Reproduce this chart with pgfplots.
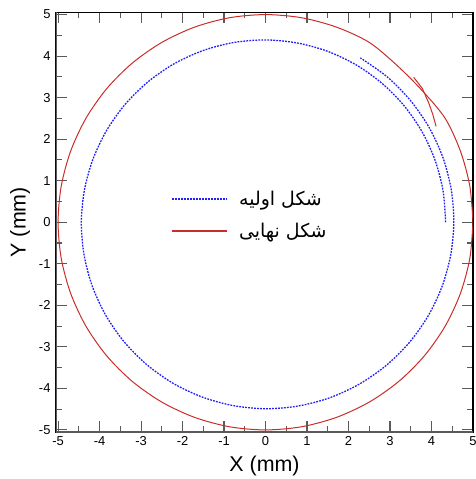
\documentclass[border=0pt]{standalone}
\usepackage{fontspec}
\setmainfont{Liberation Sans}
\newfontfamily\arabicfont[Script=Arabic]{DejaVu Sans}
\TeXXeTstate=1
\usepackage{pgfplots}
\pgfplotsset{compat=1.18}
\definecolor{myred}{RGB}{200,45,40}
\definecolor{myblue}{RGB}{30,30,255}
\definecolor{axgray}{RGB}{90,90,90}
\begin{document}
\begin{tikzpicture}
\begin{axis}[
  at={(0bp,0bp)}, anchor=south west,
  scale only axis,
  width=417bp, height=419.5bp,
  xmin=-5.05, xmax=5.0, ymin=-5.05, ymax=5.05,
  xtick={-5,...,5}, ytick={-5,...,5},
  minor xtick={-4.5,-3.5,...,4.5}, minor ytick={-4.5,-3.5,...,4.5},
  tick align=inside,
  major tick length=11bp, minor tick length=6bp,
  every tick/.style={axgray, line width=1.1pt},
  axis line style={black, line width=1.2pt},
  /pgf/number format/assume math mode=true,
  ticklabel style={font=\fontsize{13}{15}\selectfont},
  xticklabel style={yshift=-1bp},
  yticklabel style={xshift=-2bp},
  xlabel={X (mm)}, ylabel={Y (mm)},
  label style={font=\fontsize{21.5}{24}\selectfont},
  xlabel style={at={(axis description cs:0.5,0)}, anchor=center, yshift=-34bp},
  ylabel style={at={(axis description cs:0,0.5)}, anchor=center, yshift=36bp},
  legend style={at={(0.27,0.517)}, anchor=west, draw=none, fill=none,
    font=\fontsize{19}{22}\selectfont, row sep=12bp,
    /tikz/every odd column/.append style={column sep=9bp}},
  legend cell align=left,
]
\addplot[color=myblue, line width=1.3pt, dash pattern=on 1.8pt off 1.2pt, smooth,
  legend image code/.code={\draw[myblue, line width=1.4pt, dash pattern=on 1.8pt off 1.2pt] (0bp,0bp) -- (55bp,0bp);}] coordinates {
(4.34,0) (4.279,0.754) (4.088,1.488) (3.773,2.178) (3.341,2.804) (2.807,3.345)
(2.187,3.787) (1.498,4.115) (0.761,4.317) (0,4.39) (-0.763,4.328) (-1.505,4.135)
(-2.203,3.816) (-2.835,3.379) (-3.384,2.839) (-3.830,2.211) (-4.161,1.514) (-4.366,0.770)
(-4.44,0) (-4.376,-0.772) (-4.182,-1.522) (-3.858,-2.228) (-3.417,-2.868) (-2.871,-3.421)
(-2.236,-3.873) (-1.531,-4.207) (-0.778,-4.415) (0,-4.49) (0.780,-4.426) (1.539,-4.229)
(2.253,-3.901) (2.899,-3.455) (3.459,-2.903) (3.916,-2.261) (4.254,-1.548) (4.463,-0.787)
(4.538,0) (4.475,0.789) (4.276,1.556) (3.945,2.278) (3.493,2.931) (2.935,3.498) (2.285,3.958)
};
\addlegendentry{\arabicfont\beginR شکل اولیه\endR}
\addplot[color=myred, line width=1pt, smooth,
  legend image code/.code={\draw[myred, line width=1.2pt] (0bp,0bp) -- (55bp,0bp);}] coordinates {
(5,0) (4.924,0.868) (4.698,1.710) (4.330,2.5) (3.776,3.169) (3.169,3.776)
(2.5,4.330) (1.710,4.698) (0.868,4.924) (0,5) (-0.868,4.924) (-1.710,4.698)
(-2.5,4.330) (-3.214,3.830) (-3.830,3.214) (-4.330,2.5) (-4.698,1.710) (-4.924,0.868)
(-5,0) (-4.924,-0.868) (-4.698,-1.710) (-4.330,-2.5) (-3.830,-3.214) (-3.214,-3.830)
(-2.5,-4.330) (-1.710,-4.698) (-0.868,-4.924) (0,-5) (0.868,-4.924) (1.710,-4.698)
(2.5,-4.330) (3.214,-3.830) (3.830,-3.214) (4.330,-2.5) (4.698,-1.710) (4.924,-0.868) (5,0)
};
\addlegendentry{\arabicfont\beginR شکل نهایی\endR}
\addplot[color=myred, line width=1pt, forget plot] coordinates {
(3.57,3.49) (3.78,3.22) (3.93,2.88) (4.03,2.60) (4.11,2.31)
};
\draw[axgray, line width=2.6pt] (rel axis cs:0,1) -- (rel axis cs:0,0) -- (rel axis cs:1,0);
\end{axis}
\pgfresetboundingbox
\path[use as bounding box] (-56bp,-47bp) rectangle (420bp,432bp);
\end{tikzpicture}
\end{document}
